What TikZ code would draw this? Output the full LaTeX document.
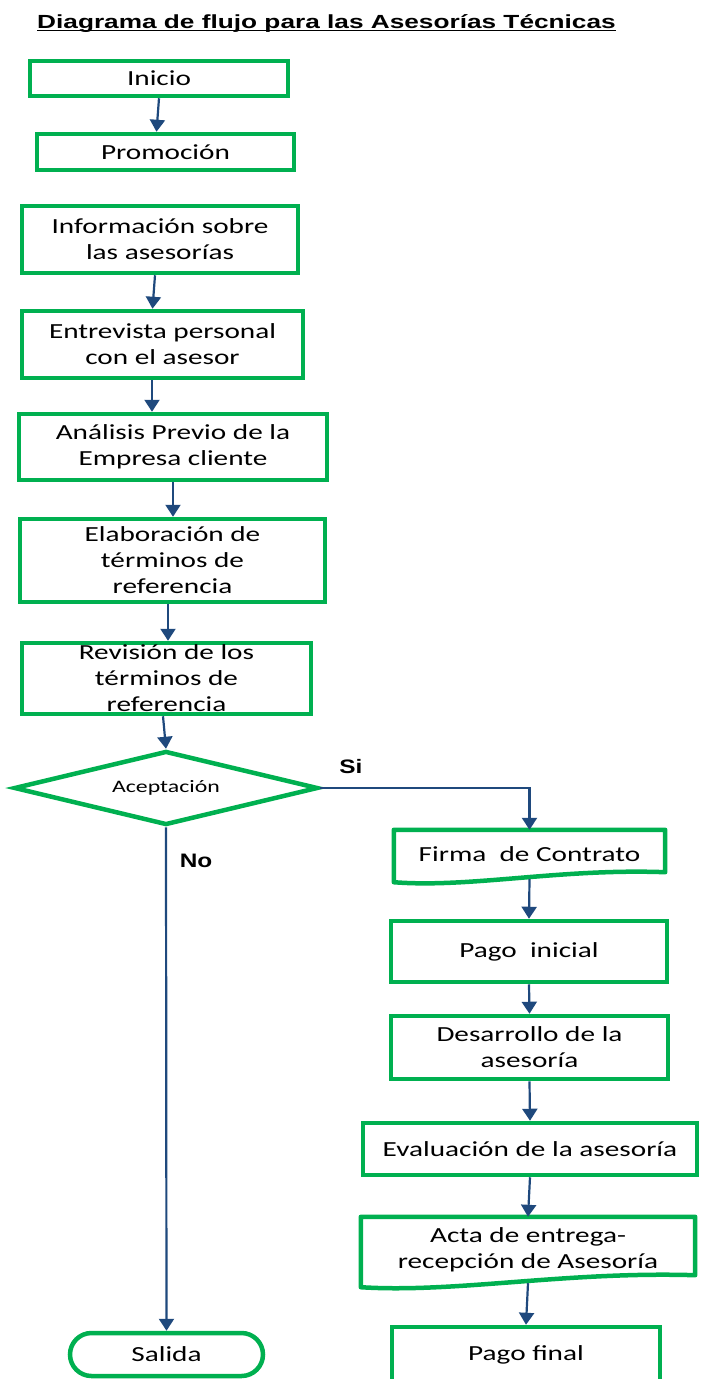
\documentclass[tikz,border=0pt]{standalone}
\usepackage{fontspec}
\setmainfont{Carlito}[FakeStretch=1.36]
\newfontfamily\titulofont{Liberation Sans}[FakeStretch=1.38]
\newfontfamily\etiqfont{Liberation Sans}[FakeStretch=1.25]
\usetikzlibrary{arrows.meta,shapes.geometric}
\definecolor{verde}{HTML}{00B050}
\definecolor{azul}{HTML}{1F497D}
\tikzset{
    every node/.style={inner sep=0pt, align=center, font=\fontsize{21.5}{26}\selectfont}
}
\tikzset{
    caja/.style={rectangle, draw=verde, line width=4.5pt},
    doc/.style={draw=verde, line width=4.5pt, line join=round},
    flecha/.style={draw=azul, line width=2.2pt, -{Triangle[width=15pt,length=12pt]}},
    etiq/.style={font=\etiqfont\bfseries\fontsize{19.5}{22}\selectfont}
}

\begin{document}
\begin{tikzpicture}[x=1pt, y=-1pt]
    \useasboundingbox (0,0) rectangle (701,1379);
    \clip (0,0) rectangle (701,1379);

    \node (tit) [anchor=base, font=\titulofont\bfseries\fontsize{19}{22}\selectfont] at (326.5,28) {Diagrama de flujo para las Asesorías Técnicas};
    \draw [line width=1.8pt] ([yshift=-2.5pt]tit.base west) -- ([yshift=-2.5pt]tit.base east);

    \node (ini) [caja, minimum width=258pt, minimum height=35pt] at (159,78.5) {Inicio};
    \node (pro) [caja, minimum width=257pt, minimum height=36pt] at (165.5,152) {Promoción};
    \node (inf) [caja, minimum width=276pt, minimum height=67pt] at (160,239.5) {Información sobre\\las asesorías};
    \node (ent) [caja, minimum width=281pt, minimum height=67pt] at (162.5,344.5) {Entrevista personal\\con el asesor};
    \node (ana) [caja, minimum width=308pt, minimum height=66pt] at (173,447) {Análisis Previo de la\\Empresa cliente};
    \node (ela) [caja, minimum width=305pt, minimum height=83pt] at (172.5,560.5) {Elaboración de\\términos de\\referencia};
    \node (rev) [caja, minimum width=289pt, minimum height=71pt] at (166.5,678.5) {Revisión de los\\términos de\\referencia};
    \node (ace) [diamond, aspect=4.1, draw=verde, line width=4.5pt, minimum width=304pt, minimum height=74pt,
        font=\fontsize{17.5}{20}\selectfont] at (166,788) {Aceptación};
    \node (sal) [caja, rounded corners=21.5pt, minimum width=193pt, minimum height=43pt] at (166.5,1354.5) {Salida};

    \node (si) [etiq] at (351,767) {Si};
    \node (no) [etiq] at (196,861) {No};

    \node (fir) [minimum width=271pt, minimum height=49pt] at (529.5,854.5) {Firma\ \ de Contrato};
    \draw [doc] ([yshift=-3pt]fir.south west) -- (fir.north west) -- (fir.north east) -- ([yshift=7pt]fir.south east)
        .. controls +(-105,-4) and +(76,6) .. ([yshift=-3pt]fir.south west) -- cycle;
    \node (pin) [caja, minimum width=276pt, minimum height=61pt] at (529,951.5) {Pago\ \ inicial};
    \node (des) [caja, minimum width=277pt, minimum height=63pt] at (529.5,1047.5) {Desarrollo de la\\asesoría};
    \node (eva) [caja, minimum width=334pt, minimum height=52pt] at (530,1149) {Evaluación de la asesoría};
    \node (act) [minimum width=334pt, minimum height=66pt] at (528,1250) {Acta de entrega-\\recepción de Asesoría};
    \draw [doc] ([yshift=-4pt]act.south west) -- (act.north west) -- (act.north east) -- ([yshift=8pt]act.south east)
        .. controls +(-130,-4) and +(95,6) .. ([yshift=-4pt]act.south west) -- cycle;
    \node (fin) [caja, minimum width=268pt, minimum height=56pt] at (526,1355) {Pago final};

    % flechas
    \draw [flecha] (ini.south) -- ([xshift=-9pt]pro.north);
    \draw [flecha] ([xshift=-5pt]inf.south) -- ([xshift=-10pt]ent.north);
    \draw [flecha] ([xshift=-10.5pt]ent.south) -- ([xshift=-21pt]ana.north);
    \draw [flecha] (ana.south) -- (ela.north -| ana.south);
    \draw [flecha] ([xshift=-4.5pt]ela.south) -- ([xshift=1.5pt]rev.north);
    \draw [flecha] ([xshift=-3.5pt]rev.south) -- (ace.north);
    \draw [flecha] (ace.east) -| (fir.north);
    \draw [flecha] (ace.south) -- (sal.north);
    \draw [flecha] (fir.south) -- (pin.north);
    \draw [flecha] (pin.south) -- (des.north);
    \draw [flecha] (des.south) -- (eva.north);
    \draw [flecha] (eva.south) -- (act.north);
    \draw [flecha] (act.south) -- (fin.north);
\end{tikzpicture}
\end{document}
